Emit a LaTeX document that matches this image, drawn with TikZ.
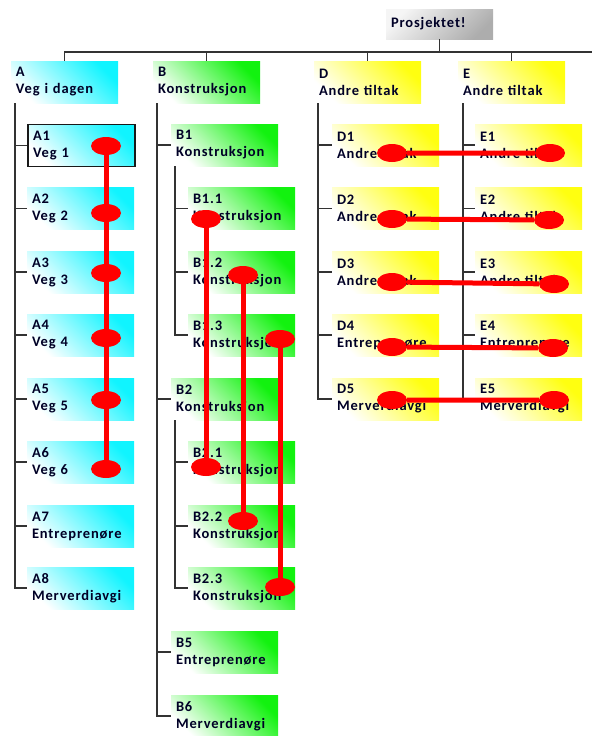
\documentclass[tikz,border=0pt]{standalone}
\usepackage{fontspec}
\setmainfont{Carlito}[LetterSpace=6]
\usepackage{tikz}
\usetikzlibrary{shapes.geometric}
\definecolor{vegcol}{HTML}{10F4FF}
\definecolor{konscol}{HTML}{12F20F}
\definecolor{tiltcol}{HTML}{FFFF10}
\definecolor{linecol}{HTML}{333333}
\definecolor{red}{HTML}{FF0000}

\tikzset{
  box/.style={rectangle, minimum width=107pt, minimum height=42pt, text width=97pt,
    inner xsep=5pt, align=left, font=\bfseries\fontsize{14.5}{17}\selectfont, text=black!85!blue},
  vegbox/.style={box, top color=white, middle color=vegcol!60, bottom color=vegcol, shading angle=135},
  konsbox/.style={box, top color=white, middle color=konscol!60, bottom color=konscol, shading angle=135},
  tiltbox/.style={box, top color=white, middle color=tiltcol!60, bottom color=tiltcol, shading angle=135},
  rootbox/.style={box, minimum height=30pt, top color=black!4, bottom color=black!32, shading angle=45},
  tree/.style={draw=linecol, line width=1.4pt},
  mark dot/.style={ellipse, fill=red, minimum width=30pt, minimum height=18pt, inner sep=0pt},
  redline/.style={red, line width=5pt}
}

\begin{document}
\begin{tikzpicture}[x=1pt, y=-1pt]
    \useasboundingbox (0,0) rectangle (592,736);
    \node[rootbox] at(439.5,24)(root){Prosjektet!};
    \node[vegbox] at(64.5,82)(A){A\\Veg i dagen};
    \node[konsbox] at(206.5,82)(B){B\\Konstruksjon};
    \node[tiltbox] at(367.5,82)(D){D\\Andre tiltak};
    \node[tiltbox] at(511.5,82)(E){E\\Andre tiltak};
    \coordinate (bus) at (0,52);
    \coordinate (busend) at (592,52);
    \draw[tree] (root.south) -- (root.south |- bus) (A.north) |- (busend)
      (B.north) -- (B.north |- bus) (D.north) -- (D.north |- bus) (E.north) -- (E.north |- bus);
    %
    \node[vegbox, draw=black!90, line width=1.8pt] at(81.5,145.5)(A1){A1\\Veg 1};
    \node[vegbox] at(80.5,208.5)(A2){A2\\Veg 2};
    \node[vegbox] at(80.5,272)(A3){A3\\Veg 3};
    \node[vegbox] at(80.5,335)(A4){A4\\Veg 4};
    \node[vegbox] at(80.5,399)(A5){A5\\Veg 5};
    \node[vegbox] at(80.5,462)(A6){A6\\Veg 6};
    \node[vegbox] at(80.5,526)(A7){A7\\Entreprenøre};
    \node[vegbox] at(80.5,588)(A8){A8\\Merverdiavgi};
    \coordinate (sA) at ([xshift=4pt]A.south west);
    \draw[tree] (sA) |- (A1.west) (sA) |- (A2.west) (sA) |- (A3.west) (sA) |- (A4.west)
      (sA) |- (A5.west) (sA) |- (A6.west) (sA) |- (A7.west) (sA) |- (A8.west);
    %
    \node[konsbox] at(224.5,145)(B1){B1\\Konstruksjon};
    \node[konsbox] at(241.5,208.5)(B11){B1.1\\Konstruksjon};
    \node[konsbox] at(241.5,272)(B12){B1.2\\Konstruksjon};
    \node[konsbox] at(241.5,335)(B13){B1.3\\Konstruksjon};
    \node[konsbox] at(224.5,399)(B2){B2\\Konstruksjon};
    \node[konsbox] at(241.5,462)(B21){B2.1\\Konstruksjon};
    \node[konsbox] at(241.5,526)(B22){B2.2\\Konstruksjon};
    \node[konsbox] at(241.5,588)(B23){B2.3\\Konstruksjon};
    \node[konsbox] at(224.5,652)(B5){B5\\Entreprenøre};
    \node[konsbox] at(224.5,716)(B6){B6\\Merverdiavgi};
    \coordinate (sB) at ([xshift=4pt]B.south west);
    \coordinate (sB1) at ([xshift=4pt]B1.south west);
    \coordinate (sB2) at ([xshift=4pt]B2.south west);
    \draw[tree] (sB) |- (B1.west) (sB) |- (B2.west) (sB) |- (B5.west) (sB) |- (B6.west);
    \draw[tree] (sB1) |- (B11.west) (sB1) |- (B12.west) (sB1) |- (B13.west);
    \draw[tree] (sB2) |- (B21.west) (sB2) |- (B22.west) (sB2) |- (B23.west);
    %
    \node[tiltbox] at(385.5,145)(D1){D1\\Andre tiltak};
    \node[tiltbox] at(385.5,208.5)(D2){D2\\Andre tiltak};
    \node[tiltbox] at(385.5,272)(D3){D3\\Andre tiltak};
    \node[tiltbox] at(385.5,335)(D4){D4\\Entreprenøre};
    \node[tiltbox] at(385.5,399)(D5){D5\\Merverdiavgi};
    \coordinate (sD) at ([xshift=4pt]D.south west);
    \draw[tree] (sD) |- (D1.west) (sD) |- (D2.west) (sD) |- (D3.west) (sD) |- (D4.west) (sD) |- (D5.west);
    %
    \node[tiltbox] at(528.5,145)(E1){E1\\Andre tiltak};
    \node[tiltbox] at(528.5,208.5)(E2){E2\\Andre tiltak};
    \node[tiltbox] at(528.5,272)(E3){E3\\Andre tiltak};
    \node[tiltbox] at(528.5,335)(E4){E4\\Entreprenøre};
    \node[tiltbox] at(528.5,399)(E5){E5\\Merverdiavgi};
    \coordinate (sE) at ([xshift=5pt]E.south west);
    \draw[tree] (sE) |- (E1.west) (sE) |- (E2.west) (sE) |- (E3.west) (sE) |- (E4.west) (sE) |- (E5.west);
    %
    \draw[redline] (106,146) -- (106,469);
    \node[mark dot] at(106,146)(a1){};
    \node[mark dot] at(106,213)(a2){};
    \node[mark dot] at(106,273)(a3){};
    \node[mark dot] at(106,338)(a4){};
    \node[mark dot] at(106,400)(a5){};
    \node[mark dot] at(106,469)(a6){};
    %
    \node[mark dot] at(206,219)(b1){};
    \node[mark dot] at(206,467)(b2){};
    \node[mark dot] at(243,275)(b3){};
    \node[mark dot] at(243,521)(b4){};
    \node[mark dot] at(280,339)(b5){};
    \node[mark dot] at(280,587)(b6){};
    \draw[redline] (b1) -- (b2) (b3) -- (b4) (b5) -- (b6);
    %
    \node[mark dot] at(392,153)(d1){};
    \node[mark dot] at(550,153)(e1){};
    \node[mark dot] at(392,219)(d2){};
    \node[mark dot] at(549,220)(e2){};
    \node[mark dot] at(392,282)(d3){};
    \node[mark dot] at(554,284)(e3){};
    \node[mark dot] at(392,347)(d4){};
    \node[mark dot] at(553,348)(e4){};
    \node[mark dot] at(392,400)(d5){};
    \node[mark dot] at(554,400)(e5){};
    \draw[redline] (d1) -- (e1) (d2) -- (e2) (d3) -- (e3) (d4) -- (e4) (d5) -- (e5);
\end{tikzpicture}
\end{document}
